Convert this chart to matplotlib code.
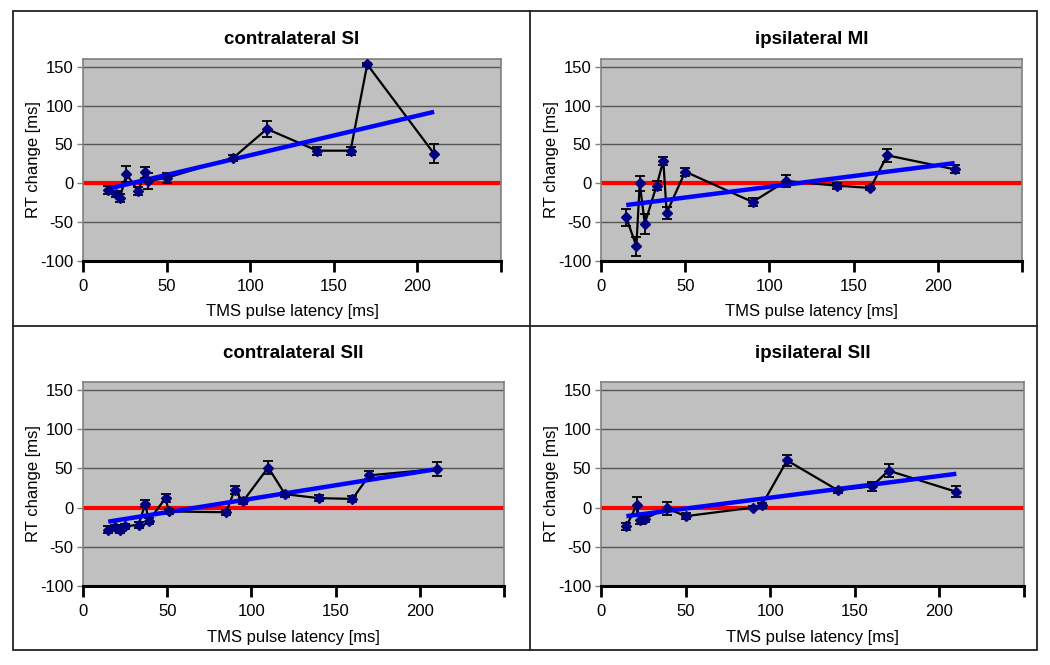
import matplotlib
matplotlib.use('Agg')
import matplotlib.pyplot as plt
from matplotlib.lines import Line2D
from matplotlib.patches import Rectangle

plt.rcParams['font.family'] = ['Liberation Sans', 'DejaVu Sans']
plt.rcParams['axes.unicode_minus'] = False

# ---------------- data ----------------
titles = ["contralateral SI", "ipsilateral MI", "contralateral SII", "ipsilateral SII"]

lat_csi = [15, 20, 22, 26, 33, 37, 39, 50, 90, 110, 140, 160, 170, 210]
rt_csi = [-9, -14, -19, 12, -10, 14, 3, 7, 33, 70, 42, 42, 153, 38]
err_csi = [5, 4, 5, 10, 5, 7, 10, 6, 4, 10, 5, 5, 2, 12]

lat_imi = [15, 21, 23, 26, 33, 37, 39, 50, 90, 110, 140, 160, 170, 210]
rt_imi = [-44, -81, 0, -52, -3, 29, -38, 15, -24, 3, -3, -6, 36, 18]
err_imi = [11, 12, 10, 13, 6, 5, 8, 5, 5, 8, 4, 3, 8, 5]

lat_csii = [15, 19, 22, 25, 33, 37, 39, 49, 51, 85, 90, 95, 110, 120, 140, 160, 170, 210]
rt_csii = [-28, -25, -28, -24, -22, 5, -17, 12, -5, -6, 22, 8, 51, 17, 12, 11, 41, 49]
err_csii = [4, 3, 4, 3, 4, 4, 4, 5, 3, 3, 5, 4, 8, 3, 4, 4, 5, 9]

lat_isii = [15, 21, 23, 26, 39, 50, 90, 95, 110, 140, 160, 170, 210]
rt_isii = [-24, 3, -16, -14, -1, -11, 0, 3, 60, 22, 27, 47, 20]
err_isii = [4, 11, 5, 4, 8, 4, 2, 3, 7, 3, 6, 8, 7]

trend_x = [15, 210]
trend_csi = [-7, 92]
trend_imi = [-28, 26]
trend_csii = [-18, 49]
trend_isii = [-11, 43]

x_ticks = [0, 50, 100, 150, 200, 250]
x_ticklabels = ["0", "50", "100", "150", "200", ""]
y_ticks = [-100, -50, 0, 50, 100, 150]
y_ticklabels = ["-100", "-50", "0", "50", "100", "150"]

panels = [
    (lat_csi, rt_csi, err_csi, trend_csi),
    (lat_imi, rt_imi, err_imi, trend_imi),
    (lat_csii, rt_csii, err_csii, trend_csii),
    (lat_isii, rt_isii, err_isii, trend_isii),
]

# ---------------- layout ----------------
W, H = 1050, 665
fig = plt.figure(figsize=(W / 100, H / 100), dpi=100)
fig.patch.set_facecolor('white')

# axes boxes in pixel coords: left, right, top, bottom
boxes = [(83, 501, 59, 261), (601, 1022, 59, 261),
         (83, 504, 382, 586), (601, 1024, 382, 586)]
title_pads = [10.5, 10.5, 17, 17]

for i, ((l, r, t, b), (xs, ys, es, tr)) in enumerate(zip(boxes, panels)):
    ax = fig.add_axes([l / W, 1 - b / H, (r - l) / W, (b - t) / H])
    ax.set_facecolor('#c0c0c0')
    ax.set_xlim(0, 250)
    ax.set_ylim(-100, 160)

    for g in [50, 100, 150, -50]:
        ax.axhline(g, color='#555555', lw=1.0, zorder=1)

    ax.axhline(0, color='#ff0000', lw=3, zorder=2)
    ax.errorbar(xs, ys, yerr=es, fmt='none', ecolor='black', elinewidth=1.3,
                capsize=3.5, capthick=1.3, zorder=3)
    ax.plot(xs, ys, color='black', lw=1.6, zorder=4)
    ax.plot(trend_x, tr, color='#0000ff', lw=3.2, solid_capstyle='butt', zorder=5)
    ax.plot(xs, ys, linestyle='none', marker='D', markersize=5,
            color='#000080', markeredgecolor='#000080', zorder=6)

    for s in ['top', 'right', 'left']:
        ax.spines[s].set_color('#808080')
        ax.spines[s].set_linewidth(1.2)
    ax.spines['bottom'].set_color('black')
    ax.spines['bottom'].set_linewidth(2.2)

    ax.set_xticks(x_ticks)
    ax.set_xticklabels(x_ticklabels, fontsize=12)
    ax.set_yticks(y_ticks)
    ax.set_yticklabels(y_ticklabels, fontsize=12)
    ax.tick_params(axis='x', direction='out', length=8, width=2, color='black', pad=5)
    ax.tick_params(axis='y', direction='out', length=4, width=1, color='#808080', pad=3)

    ax.set_title(titles[i], fontsize=13.5, fontweight='bold', pad=title_pads[i])
    ax.set_xlabel("TMS pulse latency [ms]", fontsize=12)
    ax.xaxis.set_label_coords(0.5, -0.215)
    ax.set_ylabel("RT change [ms]", fontsize=12)
    ax.yaxis.set_label_coords(-0.1, 0.5)

# outer frame and dividers
def px(x, y):
    return x / W, 1 - y / H

x0, y0 = px(13, 11)
x1, y1 = px(1037, 650)
fig.add_artist(Rectangle((x0, y1), x1 - x0, y0 - y1, transform=fig.transFigure,
                         fill=False, edgecolor='#222222', lw=1.3))
fig.add_artist(Line2D([530 / W, 530 / W], [y1, y0], transform=fig.transFigure,
                      color='#222222', lw=1.3))
fig.add_artist(Line2D([x0, x1], [1 - 326 / H, 1 - 326 / H], transform=fig.transFigure,
                      color='#222222', lw=1.3))

fig.savefig('out.png', dpi=100)
